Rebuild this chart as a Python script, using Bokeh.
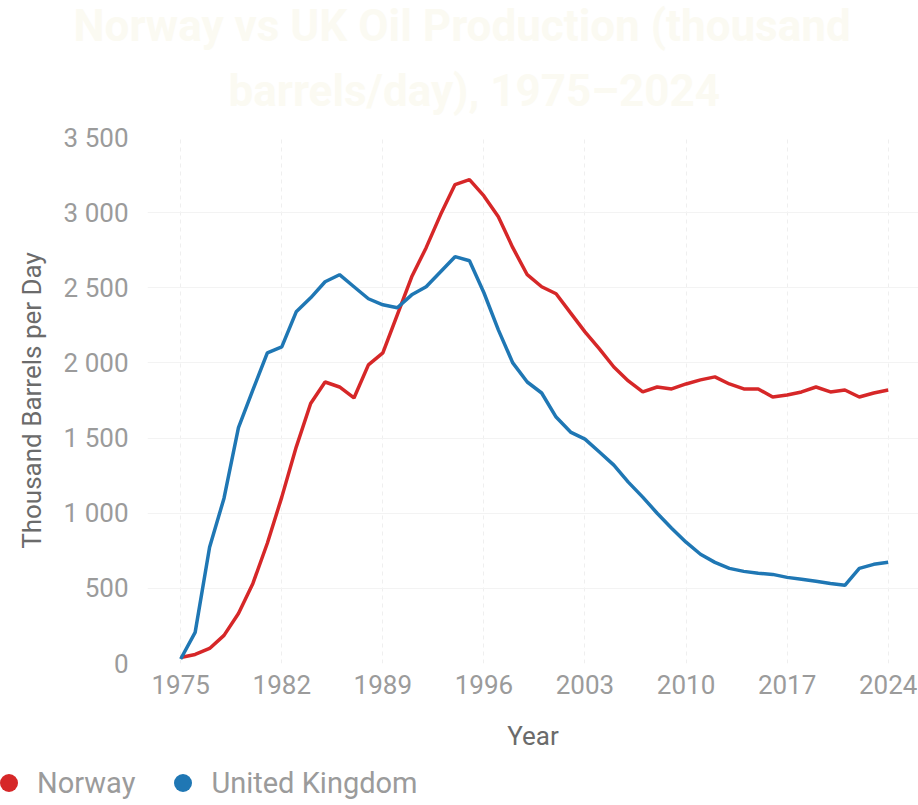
from bokeh.plotting import figure
from bokeh.models import Range1d, FixedTicker, Title, Legend, LegendItem
from bokeh.embed import file_html
from bokeh.resources import INLINE

years = list(range(1975, 2025))
norway = [40, 60, 100, 187, 333, 533, 800, 1107, 1440, 1730, 1873, 1840, 1767, 1987, 2067,
          2320, 2573, 2767, 2987, 3187, 3220, 3111, 2973, 2767, 2587, 2507, 2460, 2333, 2207, 2093,
          1973, 1880, 1807, 1840, 1827, 1860, 1887, 1907, 1860, 1827, 1827, 1773, 1787, 1807, 1840,
          1807, 1820, 1773, 1800, 1820]
uk = [30, 207, 773, 1100, 1570, 1820, 2067, 2107, 2340, 2433, 2540, 2587, 2507, 2427, 2387,
      2367, 2453, 2507, 2607, 2707, 2680, 2467, 2220, 2000, 1873, 1800, 1640, 1540, 1493, 1407,
      1320, 1207, 1107, 1000, 900, 807, 727, 673, 633, 613, 600, 593, 573, 560, 547,
      533, 520, 633, 660, 673]
x_ticks = [1975, 1982, 1989, 1996, 2003, 2010, 2017, 2024]
y_ticks = [0, 500, 1000, 1500, 2000, 2500, 3000, 3500]
y_tick_labels = ["0", "500", "1 000", "1 500", "2 000", "2 500", "3 000", "3 500"]
series_names = ["Norway", "United Kingdom"]
series_colors = ["#d62728", "#1f77b4"]
title_lines = ["Norway vs UK Oil Production (thousand", "barrels/day), 1975\u20132024"]

FONT = "Roboto"
TICK_COLOR = "#9b9b9b"
LABEL_COLOR = "#6b6b6b"
TITLE_COLOR = "#fbfaf2"

p = figure(width=918, height=760, output_backend="svg", toolbar_location=None,
           x_range=Range1d(1972.7, 2026.1), y_range=Range1d(0, 3500),
           min_border_left=147, min_border_right=0, min_border_top=137, min_border_bottom=97)
p.outline_line_color = None
p.background_fill_color = "white"
p.border_fill_color = "white"

t2 = Title(text=title_lines[1], align="left", text_font=FONT, standoff=41,
           text_font_size="44px", text_font_style="bold", text_color=TITLE_COLOR, offset=81)
t1 = Title(text=title_lines[0], align="left", text_font=FONT, standoff=-18,
           text_font_size="44px", text_font_style="bold", text_color=TITLE_COLOR, offset=-74)
p.add_layout(t2, "above")
p.add_layout(t1, "above")

p.line(years, norway, line_color=series_colors[0], line_width=3.5)
p.line(years, uk, line_color=series_colors[1], line_width=3.5)

p.xaxis.ticker = FixedTicker(ticks=x_ticks)
p.yaxis.ticker = FixedTicker(ticks=y_ticks)
p.yaxis.major_label_overrides = {v: s for v, s in zip(y_ticks, y_tick_labels)}
p.xaxis.axis_label = "Year"
p.yaxis.axis_label = "Thousand Barrels per Day"
for ax in (p.xaxis, p.yaxis):
    ax.axis_line_color = None
    ax.major_tick_line_color = None
    ax.minor_tick_line_color = None
    ax.major_label_text_font = FONT
    ax.major_label_text_font_size = "26px"
    ax.major_label_text_color = TICK_COLOR
    ax.axis_label_text_font = FONT
    ax.axis_label_text_font_size = "26px"
    ax.axis_label_text_color = LABEL_COLOR
    ax.axis_label_text_font_style = "normal"
p.xaxis.major_label_standoff = 5
p.yaxis.major_label_standoff = 13
p.xaxis.axis_label_standoff = 24
p.yaxis.axis_label_standoff = 14

p.xgrid.grid_line_color = "#efefef"
p.xgrid.grid_line_dash = "4 4"
p.ygrid.grid_line_color = "#f3f3f3"

# legend strip below the chart (separate root, so its frame starts at x = 0)
lg = figure(width=918, height=45, output_backend="svg", toolbar_location=None,
            x_range=Range1d(0, 1), y_range=Range1d(0, 1), x_axis_type=None, y_axis_type=None,
            min_border=0, min_border_left=0, min_border_right=0, min_border_top=0, min_border_bottom=0)
lg.outline_line_color = None
lg.grid.visible = False
# the series points lie outside this strip's ranges; only their legend swatches show
d1 = lg.scatter(years, norway, marker="circle", size=18, fill_color=series_colors[0], line_color=None)
d2 = lg.scatter(years, uk, marker="circle", size=18, fill_color=series_colors[1], line_color=None)
legend = Legend(items=[LegendItem(label=series_names[0], renderers=[d1]),
                       LegendItem(label=series_names[1], renderers=[d2])],
                location=(-14, 0), orientation="horizontal",
                label_text_font=FONT, label_text_font_size="29px", label_text_color=TICK_COLOR,
                glyph_width=45, glyph_height=45, label_standoff=6, spacing=25,
                padding=0, margin=0, border_line_color=None, background_fill_alpha=0)
lg.add_layout(legend, "center")

open("out.html", "w").write(file_html([p, lg], INLINE))
